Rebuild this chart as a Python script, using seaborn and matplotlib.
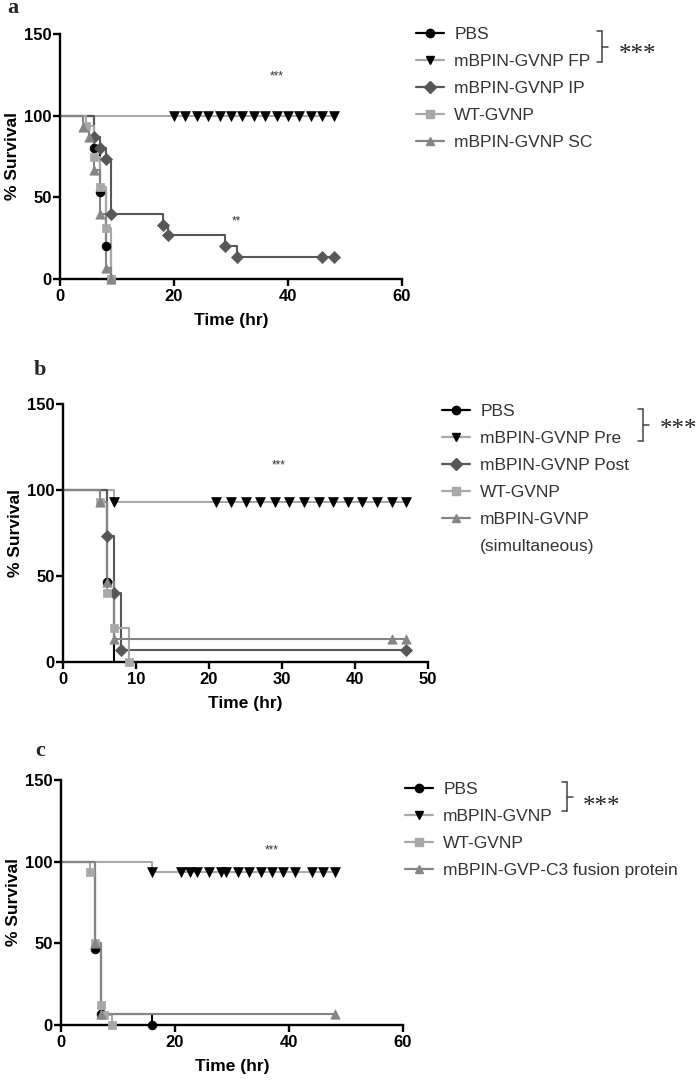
import numpy as np
import pandas as pd
import matplotlib
matplotlib.use("Agg")
import matplotlib.pyplot as plt
import seaborn as sns
from matplotlib.lines import Line2D

sns.set_theme(style="ticks")
plt.rcParams["font.family"] = ["Liberation Sans", "DejaVu Sans"]

# ---------------- data: panel a ----------------
a_labels = ["PBS", "mBPIN-GVNP FP", "mBPIN-GVNP IP", "WT-GVNP", "mBPIN-GVNP SC"]
a_pbs_t = [6, 7, 8, 9]
a_pbs_s = [80, 53.3, 20, 0]
a_fp_t = []
a_fp_s = []
a_fp_cens = [20, 22, 24, 26, 28, 30, 32, 34, 36, 38, 40, 42, 44, 46, 48]
a_ip_t = [6, 7, 8, 9, 18, 19, 29, 31]
a_ip_s = [86.7, 80, 73.3, 40, 33.3, 26.7, 20, 13.3]
a_ip_cens = [46, 48]
a_wt_t = [4.5, 6, 7, 8, 9]
a_wt_s = [93.8, 75, 56.3, 31.3, 0]
a_sc_t = [4, 5, 6, 7, 8, 9]
a_sc_s = [93.3, 86.7, 66.7, 40, 6.7, 0]
a_xticks = [0, 20, 40, 60]

# ---------------- data: panel b ----------------
b_labels = ["PBS", "mBPIN-GVNP Pre", "mBPIN-GVNP Post", "WT-GVNP", "mBPIN-GVNP", "(simultaneous)"]
b_pbs_t = [6, 7]
b_pbs_s = [46.7, 0]
b_pre_t = [7]
b_pre_s = [93.3]
b_pre_cens = [21, 23, 25, 27, 29, 31, 33, 35, 37, 39, 41, 43, 45, 47]
b_post_t = [6, 7, 8]
b_post_s = [73.3, 40, 6.7]
b_post_cens = [47]
b_wt_t = [5, 6, 7, 9]
b_wt_s = [93.3, 40, 20, 0]
b_sim_t = [5, 6, 7]
b_sim_s = [93.3, 46.7, 13.3]
b_sim_cens = [45, 47]
b_xticks = [0, 10, 20, 30, 40, 50]

# ---------------- data: panel c ----------------
c_labels = ["PBS", "mBPIN-GVNP", "WT-GVNP", "mBPIN-GVP-C3 fusion protein"]
c_pbs_t = [6, 7, 16]
c_pbs_s = [46.7, 6.7, 0]
c_gv_t = [16]
c_gv_s = [93.8]
c_gv_cens = [21, 22.7, 23.8, 26, 28, 29, 31, 33, 35, 37, 39, 41, 44, 46, 48]
c_wt_t = [5, 6, 7, 7.5, 9]
c_wt_s = [93.8, 50, 12.5, 6.3, 0]
c_fus_t = [6, 7]
c_fus_s = [50, 6.7]
c_fus_cens = [48]
c_xticks = [0, 20, 40, 60]

# ---------------- styles ----------------
BLACK = "#000000"
LIGHT = "#a8a8a8"
DARK = "#575757"
MID = "#858585"
TXT = "#333333"

W, H = 700, 1080
fig = plt.figure(figsize=(7, 10.8), dpi=100)
fig.patch.set_facecolor("white")


def add_ax(x0, x1, ytop, ybot):
    return fig.add_axes([x0 / W, 1 - ybot / H, (x1 - x0) / W, (ybot - ytop) / H])


def km(ax, t, s, cens, end, lcolor, mcolor, marker, ms, zero_marker=True):
    xs = [0] + list(t)
    ys = [100] + list(s)
    last = ys[-1]
    if end is not None and last > 0:
        xs.append(end)
        ys.append(last)
    df = pd.DataFrame({"x": xs, "y": ys})
    sns.lineplot(data=df, x="x", y="y", drawstyle="steps-post", estimator=None,
                 sort=False, color=lcolor, lw=1.5, ax=ax, zorder=2)
    px, py = [], []
    for ti, si in zip(t, s):
        if si > 0 or zero_marker:
            px.append(ti)
            py.append(si)
    px += list(cens)
    py += [last] * len(cens)
    if px:
        dm = pd.DataFrame({"x": px, "y": py})
        sns.scatterplot(data=dm, x="x", y="y", marker=marker, s=ms, color=mcolor,
                        edgecolor=mcolor, linewidth=0.5, ax=ax, zorder=3, clip_on=False)


def style(ax, xticks):
    ax.set_xlim(xticks[0], xticks[-1])
    ax.set_ylim(0, 150)
    ax.set_xticks(xticks)
    ax.set_yticks([0, 50, 100, 150])
    sns.despine(ax=ax)
    for sp in ("left", "bottom"):
        ax.spines[sp].set_linewidth(1.7)
        ax.spines[sp].set_color("black")
    ax.tick_params(width=1.7, length=5, labelsize=12, colors="black")
    ax.tick_params(axis="x", pad=2.5)
    ax.tick_params(axis="y", pad=1)
    for lb in ax.get_xticklabels() + ax.get_yticklabels():
        lb.set_fontweight("bold")
    ax.set_ylabel("% Survival", fontweight="bold", fontsize=12.5, color="black", labelpad=3)
    ax.set_xlabel("Time (hr)", fontweight="bold", fontsize=12.5, color="black", labelpad=6)
    ax.grid(False)


def handle(lcolor, mcolor, marker):
    return Line2D([0], [0], color=lcolor, lw=1.6, marker=marker, markersize=6,
                  markerfacecolor=mcolor, markeredgecolor=mcolor)


def legend(handles, labels, x, ytop):
    fig.legend(handles, labels, loc="upper left", bbox_to_anchor=(x / W, 1 - ytop / H),
               frameon=False, fontsize=12.5, labelcolor=TXT, handlelength=1.6,
               handletextpad=0.6, labelspacing=0.68, borderpad=0, borderaxespad=0)


def bracket(x, y0, y1, xt, ystar):
    ym = (y0 + y1) / 2
    segs = [([x - 5, x], [y0, y0]), ([x, x], [y0, y1]), ([x - 5, x], [y1, y1]), ([x, x + 6], [ym, ym])]
    for xx, yy in segs:
        fig.add_artist(Line2D([v / W for v in xx], [1 - v / H for v in yy],
                              color="#444444", lw=1.1, transform=fig.transFigure))
    fig.text(xt / W, 1 - (ystar + 5) / H, "***", family=["Liberation Serif"], fontsize=18,
             color="#222222", ha="left", va="center")


# ---------------- panel a ----------------
ax_a = add_ax(60, 402, 34, 279)
km(ax_a, a_pbs_t, a_pbs_s, [], None, BLACK, BLACK, "o", 40)
km(ax_a, a_fp_t, a_fp_s, a_fp_cens, 48, LIGHT, BLACK, "v", 50)
km(ax_a, a_ip_t, a_ip_s, a_ip_cens, 48, DARK, DARK, "D", 38)
km(ax_a, a_wt_t, a_wt_s, [], None, LIGHT, LIGHT, "s", 40)
km(ax_a, a_sc_t, a_sc_s, [], None, MID, MID, "^", 45)
style(ax_a, a_xticks)
ax_a.text(38, 124, "***", fontsize=8.5, color="#333333", ha="center", va="center")
ax_a.text(31, 35, "**", fontsize=8.5, color="#333333", ha="center", va="center")
legend([handle(BLACK, BLACK, "o"), handle(LIGHT, BLACK, "v"), handle(DARK, DARK, "D"),
        handle(LIGHT, LIGHT, "s"), handle(MID, MID, "^")], a_labels, 416, 27)
bracket(602, 31, 62, 619, 50)
fig.text(13 / W, 1 - 8 / H, "a", family=["Liberation Serif"], fontweight="bold",
         fontsize=16, ha="center", va="center")

# ---------------- panel b ----------------
ax_b = add_ax(63, 428, 404, 662)
km(ax_b, b_pbs_t, b_pbs_s, [], None, BLACK, BLACK, "o", 40, zero_marker=False)
km(ax_b, b_pre_t, b_pre_s, b_pre_cens, 47, LIGHT, BLACK, "v", 50)
km(ax_b, b_post_t, b_post_s, b_post_cens, 47, DARK, DARK, "D", 38)
km(ax_b, b_wt_t, b_wt_s, [], None, LIGHT, LIGHT, "s", 40)
km(ax_b, b_sim_t, b_sim_s, b_sim_cens, 47, MID, MID, "^", 45)
style(ax_b, b_xticks)
ax_b.text(29.6, 114, "***", fontsize=8.5, color="#333333", ha="center", va="center")
blank = Line2D([0], [0], color="none")
legend([handle(BLACK, BLACK, "o"), handle(LIGHT, BLACK, "v"), handle(DARK, DARK, "D"),
        handle(LIGHT, LIGHT, "s"), handle(MID, MID, "^"), blank], b_labels, 442, 404)
bracket(643, 409, 441, 660, 425)
fig.text(40 / W, 1 - 370 / H, "b", family=["Liberation Serif"], fontweight="bold",
         fontsize=16, ha="center", va="center")

# ---------------- panel c ----------------
ax_c = add_ax(61, 403, 780, 1025)
km(ax_c, c_pbs_t, c_pbs_s, [], None, BLACK, BLACK, "o", 40)
km(ax_c, c_gv_t, c_gv_s, c_gv_cens, 48, LIGHT, BLACK, "v", 50)
km(ax_c, c_wt_t, c_wt_s, [], None, LIGHT, LIGHT, "s", 40)
km(ax_c, c_fus_t, c_fus_s, c_fus_cens, 48, MID, MID, "^", 45)
style(ax_c, c_xticks)
ax_c.text(37, 107, "***", fontsize=8.5, color="#333333", ha="center", va="center")
legend([handle(BLACK, BLACK, "o"), handle(LIGHT, BLACK, "v"), handle(LIGHT, LIGHT, "s"),
        handle(MID, MID, "^")], c_labels, 405, 782)
bracket(567, 782, 811, 583, 802)
fig.text(40 / W, 1 - 751 / H, "c", family=["Liberation Serif"], fontweight="bold",
         fontsize=16, ha="center", va="center")

fig.savefig("out.png", dpi=100, facecolor="white")
